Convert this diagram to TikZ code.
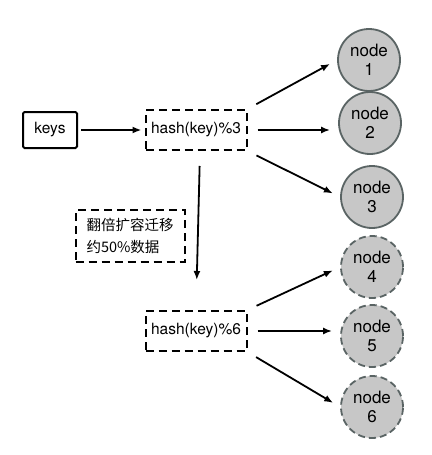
\documentclass[tikz,border=0pt]{standalone}
\usepackage{fontspec}
\setmainfont{TeX Gyre Heros}
\newfontfamily\cjk{Noto Sans CJK SC}
\usetikzlibrary{arrows.meta}
\colorlet{servergray}{black!22}
\definecolor{serverline}{RGB}{90,100,100}
\tikzstyle{keybox}=[draw,line width=2pt,rounded corners=1.5pt,minimum width=54pt,
minimum height=36pt,inner sep=2pt]
\tikzstyle{hashbox}=[draw,dash pattern=on 8pt off 5pt,line width=2pt,
minimum width=101pt,minimum height=40pt,inner sep=2pt]
\tikzstyle{server}=[circle,fill=servergray,draw=serverline,line width=1.8pt,
minimum size=62pt,inner sep=0pt,align=center,font=\fontsize{17}{19}\selectfont]
\tikzstyle{spare}=[server,dash pattern=on 7pt off 4pt]
\tikzstyle{link}=[-{Latex[length=9pt,width=7pt]},line width=1.8pt,
shorten <=10pt,shorten >=8pt]

\begin{document}
\begin{tikzpicture}[x=1pt,y=-1pt,font=\fontsize{15.5}{18}\selectfont]
        \useasboundingbox (0,0) rectangle (431,455);

        \node[keybox] at (50,130) (keys) {keys};
        \node[hashbox] at (196,130) (h3) {hash(key)\%3};
        \node[hashbox] at (196,331) (h6) {hash(key)\%6};

        \node[hashbox,minimum width=109pt,minimum height=52pt,align=left,
          font=\cjk\fontsize{14.5}{22}\selectfont] at (130,236) (move)
          {翻倍扩容迁移\\约50\%数据};

        \node[server] at (369,60) (n1) {node\\1};
        \node[server] at (370,123) (n2) {node\\2};
        \node[server] at (372,197) (n3) {node\\3};
        \node[spare] at (372,267) (n4) {node\\4};
        \node[spare] at (372,336) (n5) {node\\5};
        \node[spare] at (372,407) (n6) {node\\6};

        \draw[link,shorten <=3pt,shorten >=3pt] (keys) -- (h3);
        \draw[link] (h3.north east) -- (n1.west);
        \draw[link] (h3.east) -- (h3.east -| n2.west);
        \draw[link] (h3.south east) -- (n3.west);
        \draw[link,shorten <=15pt,shorten >=30pt] (h3.south) ++(4,0) -- (h6.north);
        \draw[link] (h6.north east) -- (n4.west);
        \draw[link] (h6.east) -- (h6.east -| n5.west);
        \draw[link] (h6.south east) -- (n6.west);
      \end{tikzpicture}
\end{document}
